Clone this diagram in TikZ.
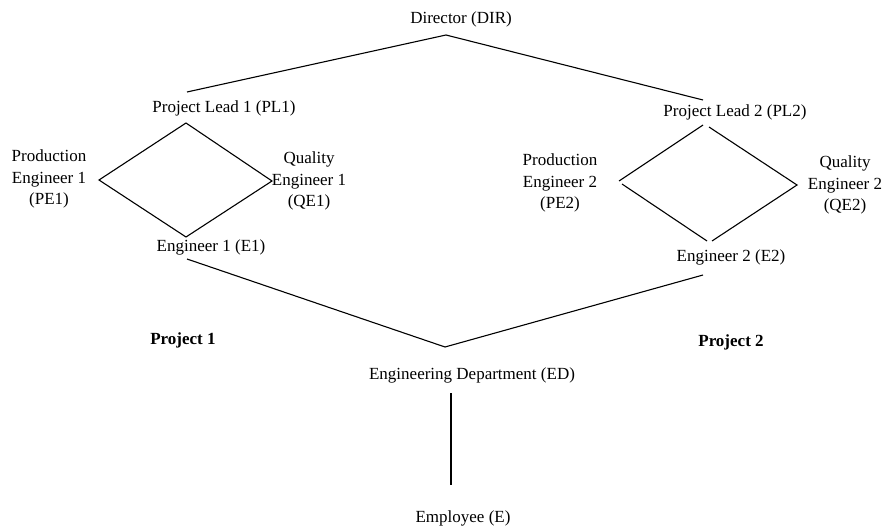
\documentclass[tikz,border=0pt]{standalone}
\usepackage{fontspec}
\setmainfont{Liberation Serif}
\begin{document}
\begin{tikzpicture}[x=1pt,y=-1pt,
  lbl/.style={font=\fontsize{17}{21.5}\selectfont, inner sep=0pt, align=center},
  proj/.style={font=\fontsize{17}{21.5}\selectfont\bfseries, inner sep=0pt},
  conn/.style={line width=1.1pt}]
\useasboundingbox (0,0) rectangle (885,529);
% labels
\node[lbl] (dir) at (461,19) {Director (DIR)};
\node[lbl] (pl1) at (224,108) {Project Lead 1 (PL1)};
\node[lbl] (pl2) at (735,112) {Project Lead 2 (PL2)};
\node[lbl] (pe1) at (49,179) {Production\\Engineer 1\\(PE1)};
\node[lbl] (qe1) at (309,181) {Quality\\Engineer 1\\(QE1)};
\node[lbl] (e1) at (211,247) {Engineer 1 (E1)};
\node[lbl] (pe2) at (560,183) {Production\\Engineer 2\\(PE2)};
\node[lbl] (qe2) at (845,185) {Quality\\Engineer 2\\(QE2)};
\node[lbl] (e2) at (731,257) {Engineer 2 (E2)};
\node[proj] (p1) at (183,340) {Project 1};
\node[proj] (p2) at (731,342) {Project 2};
\node[lbl] (ed) at (472,375) {Engineering Department (ED)};
\node[lbl] (emp) at (463,518) {Employee (E)};
% connector end points
\coordinate (dirV) at (446,35);
\coordinate (pl1Up) at (187,92);
\coordinate (pl2Up) at (703,100);
\coordinate (d1T) at (186,123);
\coordinate (d1L) at (99,180);
\coordinate (d1R) at (272,181);
\coordinate (d1B) at (186,237);
\coordinate (d2Ta) at (703,125);
\coordinate (d2Tb) at (709,127);
\coordinate (d2La) at (619,181);
\coordinate (d2Lb) at (622,184);
\coordinate (d2R) at (797,185);
\coordinate (d2Ba) at (707,241);
\coordinate (d2Bb) at (712,241);
\coordinate (e1Dn) at (187,259);
\coordinate (e2Dn) at (703,275);
\coordinate (edV) at (445,347);
\coordinate (edDn) at (451,393);
\coordinate (empUp) at (451,485);
% connectors
\draw[conn] (pl1Up) -- (dirV) -- (pl2Up);
\draw[conn] (d1T) -- (d1R) -- (d1B) -- (d1L) -- cycle;
\draw[conn] (d2La) -- (d2Ta);
\draw[conn] (d2Tb) -- (d2R) -- (d2Bb);
\draw[conn] (d2Lb) -- (d2Ba);
\draw[conn] (e1Dn) -- (edV) -- (e2Dn);
\draw[conn] (edDn) -- (empUp);
\end{tikzpicture}
\end{document}
